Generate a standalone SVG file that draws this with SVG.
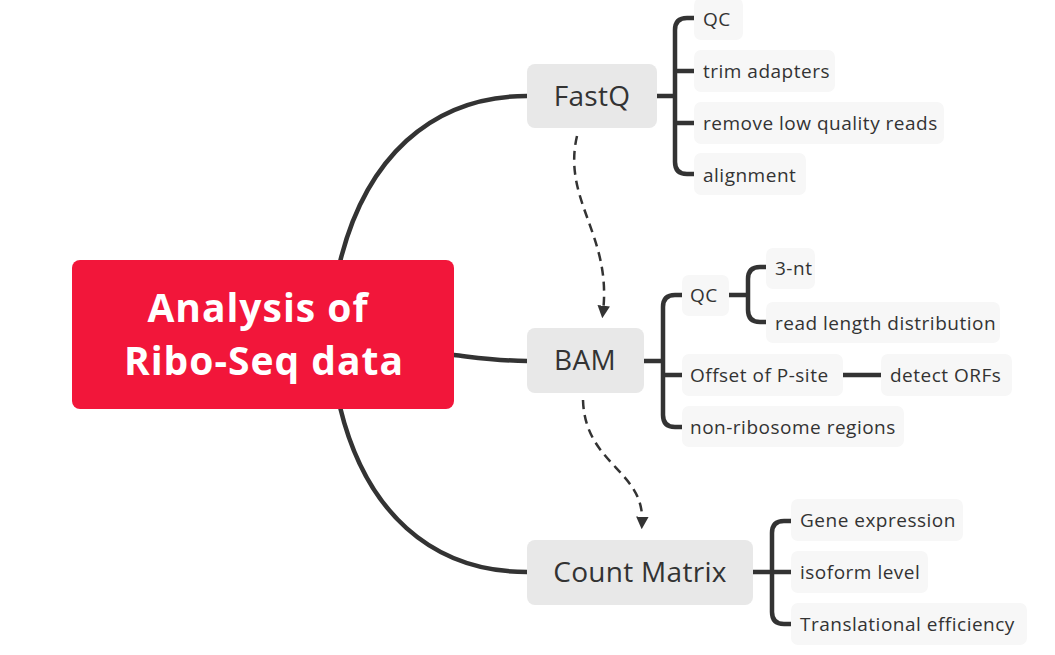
<svg xmlns="http://www.w3.org/2000/svg" width="1055" height="655" viewBox="0 0 1055 655">
<style>
.main{fill:#E8E8E8}
.leaf{fill:#F7F7F7}
.t{font-family:"Open Sans",Lato,sans-serif;fill:#333333}
.mt{font-size:28px;letter-spacing:0.3px;text-anchor:middle}
.lt{font-size:19px;letter-spacing:0.5px}
.rt{font-family:"Open Sans",Lato,sans-serif;font-weight:bold;font-size:39px;letter-spacing:1px;fill:#FFFFFF;text-anchor:middle}
.ln{fill:none;stroke:#333333;stroke-width:4.5;stroke-linecap:round;stroke-linejoin:round}
.dash{fill:none;stroke:#333333;stroke-width:2.5;stroke-dasharray:9,6}
</style>
<defs>
<marker id="ah" viewBox="0 0 10 10" refX="5" refY="5" markerWidth="5" markerHeight="5" orient="auto" markerUnits="strokeWidth">
<path d="M0,0 L10,5 L0,10 z" fill="#333333"/>
</marker>
</defs>
<rect width="1055" height="655" fill="#FFFFFF"/>
<g id="connectors">
<path class="ln" d="M340,262 C365,160 430,96 527,96"/>
<path class="ln" d="M454,355 C480,358 500,361 527,361"/>
<path class="ln" d="M340,407 C365,510 430,572 527,572"/>
<path class="ln" d="M657,96 H675 M695,18 H687 Q675,18 675,30 V162 Q675,174 687,174 H695 M675,71 Q675,71 695,71 M675,123 H695"/>
<path class="ln" d="M644,361 H663 M682,295 H675 Q663,295 663,307 V415 Q663,427 675,427 H682 M663,375 H682"/>
<path class="ln" d="M729,295 H748 M766,267 H760 Q748,267 748,279 V310 Q748,322 760,322 H766"/>
<path class="ln" d="M843,375 H881"/>
<path class="ln" d="M753,572 H772 M791,521 H784 Q772,521 772,533 V612 Q772,624 784,624 H791 M772,572 H791"/>
<path class="dash" d="M577,136 C562,200 612,235 603,312" marker-end="url(#ah)"/>
<path class="dash" d="M583,400 C585,465 645,470 642,523" marker-end="url(#ah)"/>
</g>
<g id="root">
<rect x="72" y="260" width="382" height="149" rx="8" fill="#F2163A"/>
<text class="rt" x="258" y="322">Analysis of</text>
<text class="rt" x="264" y="375">Ribo-Seq data</text>
</g>
<g id="fastq">
<rect class="main" x="527" y="64" width="130" height="64" rx="8"/>
<text class="t mt" x="592" y="106">FastQ</text>
</g>
<g id="bam">
<rect class="main" x="527" y="328" width="117" height="65" rx="8"/>
<text class="t mt" x="585" y="370">BAM</text>
</g>
<g id="countmatrix">
<rect class="main" x="527" y="540" width="226" height="65" rx="8"/>
<text class="t mt" x="640" y="582">Count Matrix</text>
</g>
<g id="fq-qc">
<rect class="leaf" x="694" y="-2" width="49" height="42" rx="7"/>
<text class="t lt" x="703" y="26">QC</text>
</g>
<g id="fq-trim">
<rect class="leaf" x="694" y="50" width="141" height="42" rx="7"/>
<text class="t lt" x="703" y="78">trim adapters</text>
</g>
<g id="fq-remove">
<rect class="leaf" x="694" y="102" width="250" height="42" rx="7"/>
<text class="t lt" x="703" y="130">remove low quality reads</text>
</g>
<g id="fq-align">
<rect class="leaf" x="694" y="153" width="112" height="42" rx="7"/>
<text class="t lt" x="703" y="182">alignment</text>
</g>
<g id="bam-qc">
<rect class="leaf" x="682" y="275" width="47" height="41" rx="7"/>
<text class="t lt" x="690" y="302">QC</text>
</g>
<g id="bam-3nt">
<rect class="leaf" x="766" y="248" width="49" height="41" rx="7"/>
<text class="t lt" x="775" y="275">3-nt</text>
</g>
<g id="bam-rld">
<rect class="leaf" x="766" y="302" width="234" height="41" rx="7"/>
<text class="t lt" x="775" y="330">read length distribution</text>
</g>
<g id="bam-offset">
<rect class="leaf" x="682" y="354" width="161" height="42" rx="7"/>
<text class="t lt" x="690" y="382">Offset of P-site</text>
</g>
<g id="bam-orf">
<rect class="leaf" x="881" y="354" width="131" height="42" rx="7"/>
<text class="t lt" x="890" y="382">detect ORFs</text>
</g>
<g id="bam-nonribo">
<rect class="leaf" x="682" y="406" width="222" height="41" rx="7"/>
<text class="t lt" x="690" y="434">non-ribosome regions</text>
</g>
<g id="cm-gene">
<rect class="leaf" x="791" y="499" width="172" height="42" rx="7"/>
<text class="t lt" x="800" y="527">Gene expression</text>
</g>
<g id="cm-iso">
<rect class="leaf" x="791" y="551" width="137" height="42" rx="7"/>
<text class="t lt" x="800" y="579">isoform level</text>
</g>
<g id="cm-te">
<rect class="leaf" x="791" y="603" width="236" height="42" rx="7"/>
<text class="t lt" x="800" y="631">Translational efficiency</text>
</g>
</svg>
